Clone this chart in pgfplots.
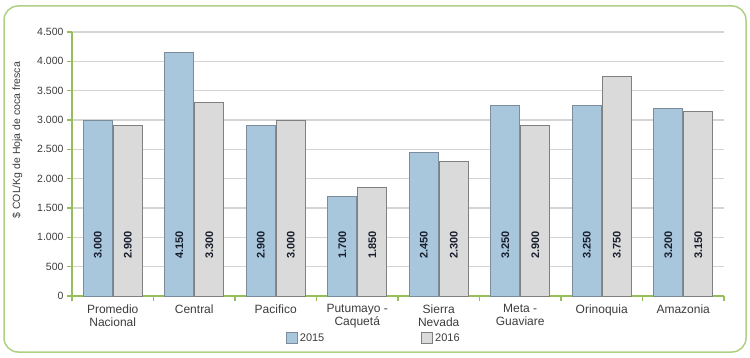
\documentclass[border=0pt]{standalone}
\usepackage{fontspec}
\setmainfont{Liberation Sans}
\usepackage{pgfplots}
\pgfplotsset{compat=1.18}
\definecolor{axg}{RGB}{150,190,90}
\definecolor{bordg}{RGB}{175,208,130}
\definecolor{gridc}{RGB}{212,212,212}
\definecolor{txt}{RGB}{60,60,60}
\definecolor{blfill}{RGB}{168,198,220}
\definecolor{bledge}{RGB}{125,140,155}
\definecolor{grfill}{RGB}{218,218,218}
\definecolor{gredge}{RGB}{128,128,128}
\definecolor{lbl}{RGB}{25,30,45}
\pgfplotsset{
  mylegend/.style={legend image code/.code={\draw[##1, line width=0.8pt] (0pt,-5pt) rectangle (11pt,6pt);}},
  barlabel/.style={forget plot, only marks, mark=none, nodes near coords, nodes near coords align=center,
    point meta=explicit symbolic,
    every node near coord/.style={rotate=90, anchor=center, inner sep=0pt, text=lbl,
      font=\fontsize{11}{11}\selectfont\bfseries}},
}
\begin{document}
\begin{tikzpicture}[x=1pt,y=1pt]
\useasboundingbox (0,0) rectangle (750,357);
\draw[bordg, line width=1.5pt, rounded corners=14pt] (4,5) rectangle (746,351);
\begin{axis}[
  at={(72pt,61pt)}, anchor=south west, scale only axis,
  width=652pt, height=264pt,
  xmin=-0.5, xmax=7.5, ymin=0, ymax=4500,
  ytick={0,500,...,4500},
  scaled y ticks=false,
  /pgf/number format/1000 sep={.},
  /pgf/number format/assume math mode=true,
  yticklabel style={font=\fontsize{10.5}{12}\selectfont, text=txt},
  xtick={-0.5,0.5,...,7.5},
  x tick label as interval,
  xticklabels={{Promedio\\Nacional},Central,Pacifico,{Putumayo -\\Caquetá},{Sierra\\Nevada},{Meta -\\Guaviare},Orinoquia,Amazonia},
  xticklabel style={align=center, font=\fontsize{12}{13}\selectfont, text=txt},
  axis x line*=bottom, axis y line*=left,
  axis line style={-, draw=axg, line width=1.3pt},
  tick align=outside, major tick length=5pt,
  tick style={draw=axg, line width=1.2pt},
  ymajorgrids, grid style={gridc, line width=1.3pt},
  ylabel={\$ COL/Kg de Hoja de coca fresca},
  ylabel style={at={(axis description cs:-0.084,0.59)}, anchor=center, font=\fontsize{10.5}{12}\selectfont, text=txt},
  legend style={draw=none, fill=none, at={(0.463,-0.159)}, anchor=center, legend columns=2,
    font=\fontsize{11}{12}\selectfont, text=txt,
    /tikz/every even column/.append style={column sep=95pt}},
]
\addplot[ybar, bar width=29pt, bar shift=-15pt, fill=blfill, draw=bledge, line width=1pt, mylegend]
  coordinates {(0,3000) (1,4150) (2,2900) (3,1700) (4,2450) (5,3250) (6,3250) (7,3200)};
\addlegendentry{2015}
\addplot[ybar, bar width=29pt, bar shift=15pt, fill=grfill, draw=gredge, line width=1pt, mylegend]
  coordinates {(0,2900) (1,3300) (2,3000) (3,1850) (4,2300) (5,2900) (6,3750) (7,3150)};
\addlegendentry{2016}
\addplot[barlabel, xshift=-15pt] table[meta=l] {
x y l
0 870 3.000
1 870 4.150
2 870 2.900
3 870 1.700
4 870 2.450
5 870 3.250
6 870 3.250
7 870 3.200
};
\addplot[barlabel, xshift=15pt] table[meta=l] {
x y l
0 870 2.900
1 870 3.300
2 870 3.000
3 870 1.850
4 870 2.300
5 870 2.900
6 870 3.750
7 870 3.150
};
\end{axis}
\end{tikzpicture}
\end{document}
